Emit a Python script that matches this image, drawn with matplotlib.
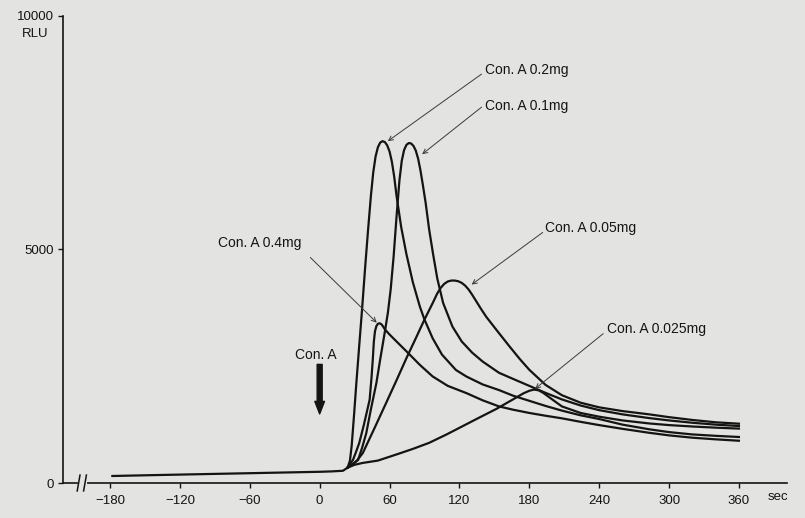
import matplotlib.pyplot as plt

plt.rcParams['font.family'] = ['Liberation Sans', 'DejaVu Sans']

# chemiluminescence (RLU) after Con. A at t = 0 sec
# common baseline before the response
base_t = [-178, -150, -120, -90, -60, -30, 0, 10, 20, 24]
base_rlu = [150, 165, 180, 195, 210, 225, 240, 248, 262, 330]

t_04 = [24, 26.5, 28.6, 31, 34, 38, 42.9, 44.5, 45.6, 46.5, 47.5, 48.7, 50, 51.5, 53, 54.5, 56, 60, 66, 76, 86, 97,
        110, 126, 140, 154, 166, 180, 194, 208, 224, 240, 260, 283, 300, 320, 340, 360]
rlu_04 = [330, 420, 494, 650, 858, 1250, 1781, 2250, 2640, 3020, 3250, 3360, 3410, 3420, 3400, 3350, 3290, 3180, 3030, 2783, 2530, 2282,
          2080, 1925, 1770, 1640, 1570, 1500, 1440, 1385, 1310, 1240, 1160, 1075, 1020, 970, 935, 905]

t_02 = [24, 26, 27.5, 29.5, 31.5, 34, 36.5, 39, 41.5, 44, 46, 48, 50, 52, 54, 56, 58, 60, 62, 64, 66, 70, 74.5,
        80, 86, 90, 97, 105, 117, 126, 140, 154, 166, 180, 194, 208, 224, 240, 260, 283, 300, 320, 340, 360]
rlu_02 = [330, 480, 800, 1450, 2140, 2950, 3750, 4600, 5400, 6150, 6650, 6990, 7190, 7290, 7320, 7300, 7230, 7100, 6880, 6560, 6150, 5480, 4900,
          4300, 3780, 3500, 3100, 2750, 2420, 2280, 2110, 1990, 1870, 1760, 1650, 1550, 1450, 1370, 1250, 1150, 1090, 1040, 1010, 985]

t_01 = [24, 28, 33, 36.5, 40, 44, 48.7, 52, 55.8, 58.6, 61, 63.5, 66, 68.5, 70.5, 72.5, 74.5, 76.5, 78.5, 80.5, 82.5, 84.5,
        86.5, 88.5, 91, 94, 97.4, 101, 106, 114, 122, 131, 140, 154, 166, 180, 194, 208, 224, 240, 260, 283, 300, 320, 340, 360]
rlu_01 = [330, 400, 494, 760, 1066, 1580, 2140, 2650, 3212, 3650, 4150, 4850, 5700, 6480, 6900, 7130, 7240, 7280, 7270, 7220, 7120, 6950,
          6700, 6400, 6000, 5430, 4900, 4380, 3856, 3350, 3030, 2790, 2600, 2360, 2230, 2080, 1930, 1790, 1660, 1560, 1470, 1390, 1340, 1290, 1250, 1220]

t_005 = [24, 28, 32, 37, 47, 57, 66, 75, 82, 90, 97, 101, 104, 107, 110, 113, 116, 119, 122, 125, 128, 131, 134.5, 138.5,
         143, 153, 163, 172, 180, 194, 208, 224, 240, 260, 283, 300, 320, 340, 360]
rlu_005 = [330, 390, 480, 640, 1170, 1710, 2200, 2700, 3070, 3500, 3850, 4060, 4180, 4265, 4315, 4335, 4335, 4320, 4285, 4225, 4140, 4030, 3890, 3730,
           3560, 3240, 2925, 2650, 2425, 2100, 1880, 1720, 1620, 1540, 1470, 1410, 1350, 1300, 1270]

t_0025 = [24, 30, 37, 50, 67, 80, 94, 109, 123, 137, 152, 166, 175, 180, 184, 188, 192, 198, 208, 224, 240, 260, 283, 300, 320, 340, 360]
rlu_0025 = [330, 390, 430, 480, 620, 730, 860, 1040, 1220, 1400, 1590, 1790, 1920, 1975, 2000, 1985, 1930, 1820, 1640, 1500, 1420, 1340, 1275,
            1240, 1210, 1185, 1165]

x_ticks = [-180, -120, -60, 0, 60, 120, 180, 240, 300, 360]
y_ticks = [0, 5000, 10000]

# label text, text anchor, arrow tail, arrow head
labels = [
    ('Con. A 0.2mg', (142, 8842), (139, 8756), (58.5, 7320)),
    ('Con. A 0.1mg', (142, 8069), (139, 8048), (88, 7040)),
    ('Con. A 0.05mg', (193.5, 5451), (191.5, 5365), (130.5, 4249)),
    ('Con. A 0.4mg', (-87, 5129), (-8, 4829), (49, 3434)),
    ('Con. A 0.025mg', (247, 3305), (243.5, 3198), (185, 2017)),
]

bg = '#e3e3e1'
ink = '#141414'

fig = plt.figure(figsize=(8.05, 5.18), dpi=100, facecolor=bg)
ax = fig.add_axes([63 / 805, 35 / 518, 724 / 805, 467 / 518], facecolor=bg)

ax.plot(base_t, base_rlu, color=ink, lw=1.6)
for t, v in [(t_04, rlu_04), (t_02, rlu_02), (t_01, rlu_01), (t_005, rlu_005), (t_0025, rlu_0025)]:
    ax.plot(t, v, color=ink, lw=1.6, solid_joinstyle='round')

ax.set_xlim(-220.4, 401.3)
ax.set_ylim(0, 10000)
ax.set_xticks(x_ticks)
ax.set_yticks(y_ticks)
ax.set_yticklabels(['0', '5000', '10000'])
for s in ['top', 'right']:
    ax.spines[s].set_visible(False)
for s in ['left', 'bottom']:
    ax.spines[s].set_linewidth(1.2)
    ax.spines[s].set_color(ink)
ax.tick_params(axis='both', direction='out', length=3.5, width=1.0, color=ink,
               labelsize=9.5, labelcolor=ink)
ax.tick_params(axis='x', pad=5)
ax.tick_params(axis='y', pad=3)

# axis break on the x axis
ax.plot([-205.5, -201.5], [0, 0], color=bg, lw=3, clip_on=False, zorder=5)
for xb in [-207, -201.5]:
    ax.plot([xb - 1.2, xb + 1.2], [-170, 170], color=ink, lw=1.1, clip_on=False, zorder=6)

for txt, pos, tail, head in labels:
    ax.text(pos[0], pos[1], txt, fontsize=10, color=ink, ha='left', va='center')
    ax.annotate('', xy=head, xytext=tail,
                arrowprops=dict(arrowstyle='->', lw=0.7, color='#3a3a3a',
                                mutation_scale=8, shrinkA=0, shrinkB=0))

# injection marker
ax.text(-3, 2747, 'Con. A', fontsize=10, color=ink, ha='center', va='center')
ax.annotate('', xy=(0, 1480), xytext=(0, 2540),
            arrowprops=dict(facecolor=ink, edgecolor=ink, width=3.6, headwidth=7,
                            headlength=9, shrink=0))

fig.text(35 / 805, 1 - 34 / 518, 'RLU', fontsize=9.5, color=ink, ha='center', va='center')
fig.text(768 / 805, 1 - 497 / 518, 'sec', fontsize=9.5, color=ink, ha='left', va='center')

fig.savefig('out.png', dpi=100, facecolor=bg)
